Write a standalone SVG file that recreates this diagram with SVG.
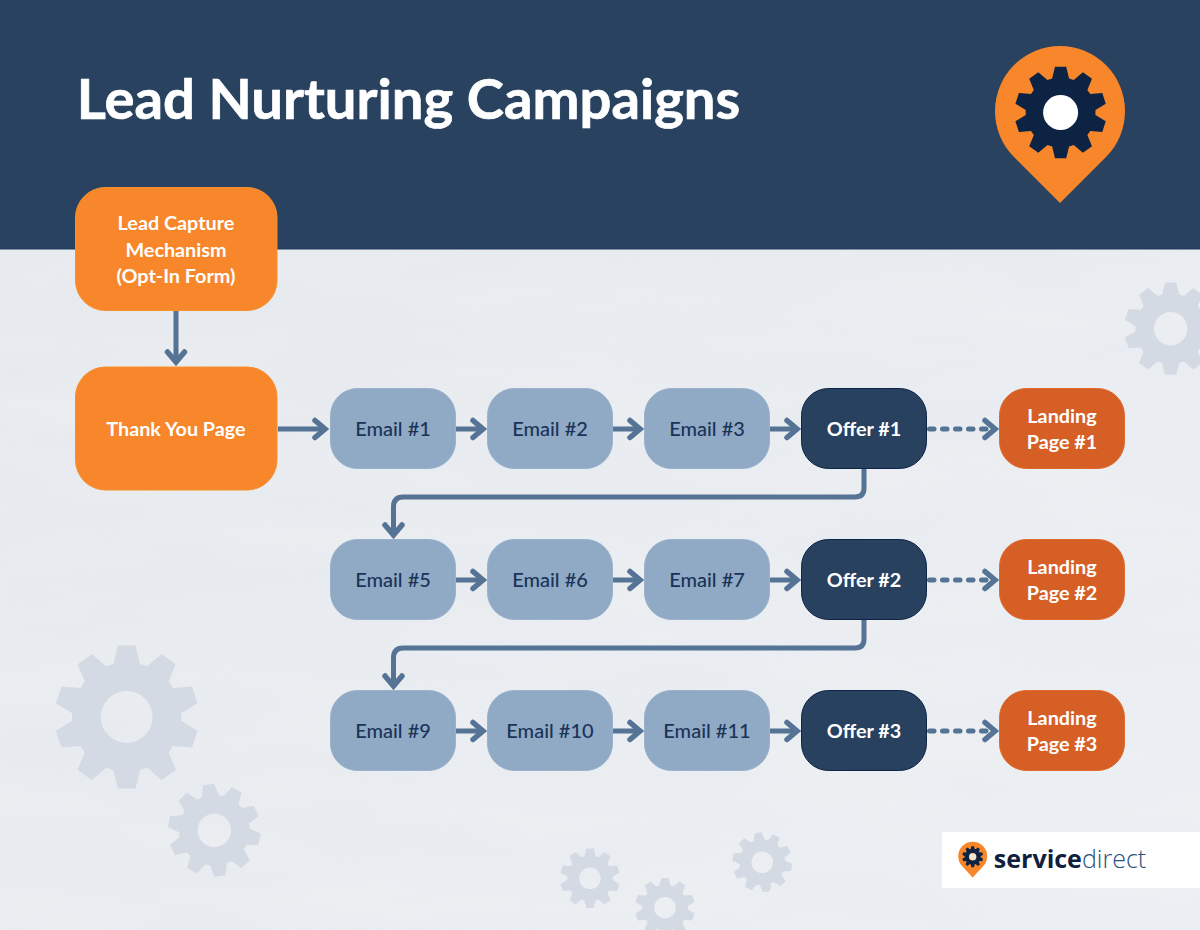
<svg xmlns="http://www.w3.org/2000/svg" width="1200" height="930" viewBox="0 0 1200 930">
<style>
text{font-family:"Lato","Liberation Sans",sans-serif;text-anchor:middle}
.n{stroke-width:1}
.o{fill:#f8862a;stroke:#f5902f}
.e{fill:#90aac6;stroke:#9ab1cb}
.d{fill:#27415f;stroke:#0f2448}
.l{fill:#d65f26;stroke:#e0692b}
.tw{fill:#fff;font-size:19.800px;font-weight:700}
.td{fill:#1a3357;font-size:20px;font-weight:500}
.c{fill:none;stroke:#557394;stroke-width:5;marker-end:url(#a)}
.ds{stroke-dasharray:4.500 8.500 4.500 8.500 4.500 8.500 4.500 8.500 4.500 100;stroke-linecap:round}
.g{fill:#d3dae4;fill-rule:evenodd}
</style>
<defs>
<linearGradient id="bg" x1="0" y1="0" x2="1" y2="1"><stop offset="0" stop-color="#e5e8ed"/><stop offset=".5" stop-color="#e8ebef"/><stop offset="1" stop-color="#ebeef2"/></linearGradient>
<filter id="tex" x="0" y="0" width="100%" height="100%"><feTurbulence type="fractalNoise" baseFrequency=".004 .018" numOctaves="3" seed="7"/><feColorMatrix values="0 0 0 0 1  0 0 0 0 1  0 0 0 0 1  1.600 0 0 0 -.55"/></filter>
<marker id="a" markerUnits="userSpaceOnUse" markerWidth="24" markerHeight="28" refX="18" refY="14" orient="auto" viewBox="0 0 24 28"><path d="M7 5.500 L17 14 L7 22.500" fill="none" stroke="#557394" stroke-width="5.500" stroke-linecap="round" stroke-linejoin="miter"/></marker>
<path id="gear" d="M-18.400 -73.700L-12.200 -99.300L12.200 -99.300L18.400 -73.700L28.500 -70.500L48.500 -87.500L68.200 -73.100L58.200 -48.900L64.400 -40.300L90.600 -42.300L98.200 -19.100L75.800 -5.300L75.800 5.300L98.200 19.100L90.600 42.300L64.400 40.300L58.200 48.900L68.200 73.100L48.500 87.500L28.500 70.500L18.400 73.700L12.200 99.300L-12.200 99.300L-18.400 73.700L-28.500 70.500L-48.500 87.500L-68.200 73.100L-58.200 48.900L-64.400 40.300L-90.600 42.300L-98.200 19.100L-75.800 5.300L-75.800 -5.300L-98.200 -19.100L-90.600 -42.300L-64.400 -40.300L-58.200 -48.900L-68.200 -73.100L-48.500 -87.500L-28.500 -70.500ZM-36 0A36 36 0 1 0 36 0A36 36 0 1 0 -36 0Z"/>
</defs>

<g id="background">
<rect width="1200" height="930" fill="url(#bg)"/>
<rect y="249" width="1200" height="681" filter="url(#tex)" opacity=".22"/>
<rect width="1200" height="249" fill="#28425f"/>
<rect y="248.500" width="1200" height="1" fill="#1d3a5c"/>
<use href="#gear" class="g" transform="translate(126.700 717) scale(.72)"/>
<use href="#gear" class="g" transform="translate(214.300 830.300) rotate(-7) scale(.465)"/>
<use href="#gear" class="g" transform="translate(1170.700 328.700) scale(.465)"/>
<use href="#gear" class="g" transform="translate(590 878.300) scale(.3)"/>
<use href="#gear" class="g" transform="translate(665 907.700) scale(.3)"/>
<use href="#gear" class="g" transform="translate(762.300 862.300) rotate(-8) scale(.3)"/>
</g>

<text id="title" x="408.500" y="119" style="font-size:56.200px;font-weight:700;fill:#fff;stroke:#fff;stroke-width:.7px">Lead Nurturing Campaigns</text>

<g id="logo-pin">
<path d="M1060 203 L1014 157 A65 65 0 1 1 1106 157 Z" fill="#f8862a"/>
<use href="#gear" fill="#0d2344" fill-rule="evenodd" transform="translate(1060.600 112.500) scale(.46)"/>
<circle cx="1060.600" cy="112.500" r="17.500" fill="#fff"/>
</g>

<g id="brand">
<rect x="942" y="832" width="258" height="56" fill="#fff"/>
<path d="M972.700 877.500 L962.500 866.500 A14.500 14.500 0 1 1 982.900 866.500 Z" fill="#f8862a"/>
<use href="#gear" fill="#0d2344" fill-rule="evenodd" transform="translate(972.700 856.700) scale(.105)"/>
<circle cx="972.700" cy="856.700" r="3.500" fill="#f3e6d8"/>
<text x="1070" y="868" style="font-size:25px;font-family:'Open Sans','Liberation Sans',sans-serif"><tspan font-weight="700" fill="#101f3d">service</tspan><tspan font-weight="300" fill="#28527c">direct</tspan></text>
</g>

<g id="connectors">
<path class="c" d="M176 311V363"/>
<path class="c" d="M278 429H326"/>
<path class="c" d="M456 429H484"/>
<path class="c" d="M613 429H641"/>
<path class="c" d="M770 429H798"/>
<path class="c ds" d="M929.500 429H996"/>
<path class="c" d="M864 469V488Q864 497 855 497H403Q393.500 497 393.500 507V536"/>
<path class="c" d="M456 580H484"/>
<path class="c" d="M613 580H641"/>
<path class="c" d="M770 580H798"/>
<path class="c ds" d="M929.500 580H996"/>
<path class="c" d="M864 620V639Q864 648 855 648H403Q393.500 648 393.500 658V687"/>
<path class="c" d="M456 731H484"/>
<path class="c" d="M613 731H641"/>
<path class="c" d="M770 731H798"/>
<path class="c ds" d="M929.500 731H996"/>
</g>

<g id="lead-capture"><rect class="n o" x="75.500" y="187.500" width="201.500" height="123" rx="30"/><text class="tw" x="176" y="230">Lead Capture</text><text class="tw" x="176" y="257">Mechanism</text><text class="tw" x="176" y="283">(Opt-In Form)</text></g>
<g id="thank-you"><rect class="n o" x="75.500" y="367" width="201.500" height="123" rx="30"/><text class="tw" x="176" y="436">Thank You Page</text></g>

<g id="email-1"><rect class="n e" x="330.500" y="388.500" width="125" height="80" rx="27"/><text class="td" x="393" y="436">Email #1</text></g>
<g id="email-2"><rect class="n e" x="487.500" y="388.500" width="125" height="80" rx="27"/><text class="td" x="550" y="436">Email #2</text></g>
<g id="email-3"><rect class="n e" x="644.500" y="388.500" width="125" height="80" rx="27"/><text class="td" x="707" y="436">Email #3</text></g>
<g id="offer-1"><rect class="n d" x="801.500" y="388.500" width="125" height="80" rx="27"/><text class="tw" x="864" y="436">Offer #1</text></g>
<g id="landing-1"><rect class="n l" x="999.500" y="388.500" width="125" height="80" rx="27"/><text class="tw" x="1062" y="423">Landing</text><text class="tw" x="1062" y="449">Page #1</text></g>

<g id="email-5"><rect class="n e" x="330.500" y="539.500" width="125" height="80" rx="27"/><text class="td" x="393" y="587">Email #5</text></g>
<g id="email-6"><rect class="n e" x="487.500" y="539.500" width="125" height="80" rx="27"/><text class="td" x="550" y="587">Email #6</text></g>
<g id="email-7"><rect class="n e" x="644.500" y="539.500" width="125" height="80" rx="27"/><text class="td" x="707" y="587">Email #7</text></g>
<g id="offer-2"><rect class="n d" x="801.500" y="539.500" width="125" height="80" rx="27"/><text class="tw" x="864" y="587">Offer #2</text></g>
<g id="landing-2"><rect class="n l" x="999.500" y="539.500" width="125" height="80" rx="27"/><text class="tw" x="1062" y="574">Landing</text><text class="tw" x="1062" y="600">Page #2</text></g>

<g id="email-9"><rect class="n e" x="330.500" y="690.500" width="125" height="80" rx="27"/><text class="td" x="393" y="738">Email #9</text></g>
<g id="email-10"><rect class="n e" x="487.500" y="690.500" width="125" height="80" rx="27"/><text class="td" x="550" y="738">Email #10</text></g>
<g id="email-11"><rect class="n e" x="644.500" y="690.500" width="125" height="80" rx="27"/><text class="td" x="707" y="738">Email #11</text></g>
<g id="offer-3"><rect class="n d" x="801.500" y="690.500" width="125" height="80" rx="27"/><text class="tw" x="864" y="738">Offer #3</text></g>
<g id="landing-3"><rect class="n l" x="999.500" y="690.500" width="125" height="80" rx="27"/><text class="tw" x="1062" y="725">Landing</text><text class="tw" x="1062" y="751">Page #3</text></g>
</svg>
